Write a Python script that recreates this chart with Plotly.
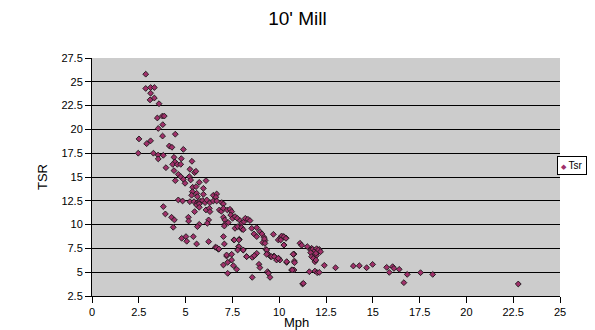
import plotly.graph_objects as go

# Wind speed (mph) and tip speed ratio readings for the 10' mill
mph = [
    2.87, 2.87, 3.13, 3.33, 3.13, 3.10, 3.33, 3.58, 3.76, 3.86, 3.49, 3.78, 3.54,
    2.51, 2.92, 3.13, 2.47, 3.28, 3.53, 3.54,
    3.77, 4.45, 4.13, 4.27, 4.88, 3.81,
    4.38, 4.77, 5.34, 4.43, 4.31, 4.56, 4.74, 3.95, 4.38, 5.23, 5.48, 5.55,
    4.61, 4.74, 4.45, 4.88, 4.97, 5.20, 5.27, 5.73, 6.09, 5.38, 5.56, 5.95,
    5.36, 5.59, 5.95, 5.32, 5.63, 6.48, 6.66, 6.62,
    4.61, 4.84, 5.23, 5.45, 5.63, 5.77, 5.91, 5.59, 5.73, 6.04, 6.13, 6.30,
    6.48, 6.66, 6.93, 7.02, 5.73, 6.09, 6.27, 6.30,
    3.81, 3.92, 4.25, 4.40, 4.34, 5.15, 5.16, 5.48, 5.73, 5.63, 6.23, 6.16,
    6.80, 6.91, 7.02, 7.23, 7.37, 7.46, 7.41, 7.51, 7.02, 7.09, 7.12, 7.28,
    7.64, 7.76, 7.91, 7.99, 8.12, 8.19, 8.33, 8.44, 7.91, 8.01, 8.53, 8.80,
    8.97, 9.08, 9.19, 8.65, 8.80, 9.24, 9.12, 9.69, 9.95, 10.08, 10.22, 10.36,
    10.26, 4.79, 5.02, 5.41, 5.06, 5.59, 6.23, 7.02, 7.07, 7.58, 7.87, 7.83,
    8.08, 6.59, 6.75, 7.19, 8.26, 8.62, 8.80, 9.29, 9.37, 9.54, 9.72, 9.97,
    10.76, 11.11, 11.20, 11.50, 11.73, 11.93, 12.04, 12.14, 11.82, 12.00,
    10.13, 10.25, 10.36, 10.08, 10.25, 10.04, 10.40, 10.79, 10.81, 10.82,
    10.66, 10.79, 11.25, 11.29, 11.68, 11.79, 11.91, 12.00, 12.09, 12.21,
    11.96, 11.68, 11.73, 11.82, 11.91, 11.96, 11.61, 11.91, 12.03, 12.14,
    12.41, 13.01, 13.96, 14.28, 14.67, 14.99, 15.74, 15.88, 16.06, 16.13,
    16.41, 16.66, 16.84, 17.55, 18.20, 22.77,
    7.02, 7.25, 7.46, 7.55, 7.73, 7.25, 8.92, 8.97, 8.56, 9.38, 9.42, 9.51,
    10.70, 10.40, 7.07, 7.64, 7.78, 7.99, 8.08, 7.60, 7.85, 9.21, 9.24, 6.66,
    6.78, 7.85, 7.78, 8.08, 7.19, 7.46, 8.26, 8.56, 8.67, 9.33, 9.33, 9.60,
    9.74, 9.86, 9.95, 10.75,
]
tsr = [
    25.8, 24.3, 24.4, 24.4, 23.8, 23.1, 23.3, 22.7, 21.4, 21.4, 21.2, 20.5, 20.1,
    19.0, 18.5, 18.8, 17.5, 17.5, 17.3, 16.9,
    19.3, 19.5, 18.26, 18.12, 17.9, 17.28,
    17.07, 16.93, 16.65, 16.58, 16.33, 16.33, 16.33, 15.98, 15.67, 15.81, 15.46, 15.6,
    15.28, 15.04, 14.62, 14.76, 14.34, 15.04, 14.69, 14.44, 14.62, 13.92, 13.99, 13.81,
    13.46, 13.29, 13.18, 13.08, 12.94, 13.08, 13.22, 12.87,
    12.59, 12.48, 12.41, 12.41, 12.31, 12.45, 12.52, 12.06, 12.17, 12.31, 12.59, 12.31,
    12.48, 12.48, 12.31, 12.17, 11.82, 11.54, 11.71, 11.36,
    11.89, 11.12, 10.77, 10.49, 9.72, 10.77, 10.38, 11.36, 10.03, 9.79, 10.49, 10.14,
    11.54, 11.40, 11.71, 11.54, 11.61, 11.36, 11.01, 10.66, 10.77, 10.49, 10.07, 10.21,
    10.84, 10.66, 10.42, 10.14, 10.31, 10.66, 10.56, 10.42, 9.79, 9.51, 9.61, 9.68,
    9.26, 9.02, 8.67, 9.02, 8.74, 8.32, 8.11, 8.98, 8.39, 8.67, 8.74, 8.60,
    7.86, 8.56, 8.74, 8.74, 8.25, 7.97, 8.21, 8.74, 7.97, 8.39, 8.46, 7.69,
    7.33, 7.62, 7.41, 6.70, 6.64, 6.64, 6.98, 7.40, 6.98, 6.64, 6.70, 6.46,
    6.88, 8.04, 7.83, 7.69, 7.51, 7.27, 7.05, 7.40, 6.64, 6.77,
    8.80, 8.73, 8.55, 8.38, 7.85, 6.28, 6.03, 6.91, 6.17, 6.00,
    5.23, 5.23, 3.76, 3.83, 7.33, 7.40, 7.26, 7.47, 7.33, 7.15,
    6.98, 7.05, 6.63, 6.45, 6.10, 6.28, 5.05, 5.12, 4.95, 4.98,
    5.72, 5.47, 5.65, 5.68, 5.47, 5.82, 5.51, 4.98, 5.58, 5.40,
    5.30, 3.90, 4.77, 4.95, 4.77, 3.76,
    5.76, 6.04, 6.28, 5.69, 5.30, 4.88, 5.83, 5.48, 4.46, 5.06, 4.88, 4.46,
    5.23, 6.11, 9.85, 9.61, 9.78, 9.68, 9.47, 8.39, 8.39, 8.49, 8.03, 7.58,
    7.44, 7.68, 7.33, 7.33, 6.81, 6.88, 6.63, 6.56, 6.74, 7.33, 6.88, 6.63,
    6.63, 6.28, 6.46, 6.88,
]

x_ticks = [0, 2.5, 5, 7.5, 10, 12.5, 15, 17.5, 20, 22.5, 25]
y_ticks = [2.5, 5, 7.5, 10, 12.5, 15, 17.5, 20, 22.5, 25, 27.5]

FONT = "Liberation Sans, Arial, sans-serif"
MARKER = "#A0306A"

fig = go.Figure()
fig.add_trace(go.Scatter(
    x=mph, y=tsr, mode="markers", name="Tsr",
    marker=dict(symbol="diamond", size=4.5, color=MARKER,
                line=dict(color="#1a1a1a", width=0.9)),
    showlegend=False,
))

fig.update_layout(
    width=595, height=330,
    margin=dict(l=92, r=35, t=58, b=34),
    paper_bgcolor="white",
    plot_bgcolor="#CCCCCC",
    font=dict(family=FONT, size=11, color="black"),
    title=dict(text="10' Mill", x=0.5, xanchor="center", xref="container",
               y=0.945, yanchor="middle", yref="container",
               font=dict(family=FONT, size=19, color="black")),
    xaxis=dict(range=[0, 25], tickvals=x_ticks, ticktext=[f"{v:g}" for v in x_ticks],
               showgrid=False, zeroline=False, showline=True, linecolor="black",
               linewidth=1, ticks="outside", ticklen=6, tickcolor="black",
               tickfont=dict(size=11)),
    yaxis=dict(range=[2.5, 27.5], tickvals=y_ticks, ticktext=[f"{v:g}" for v in y_ticks],
               showgrid=True, gridcolor="black", gridwidth=1, zeroline=False,
               showline=True, linecolor="black", linewidth=1,
               ticks="outside", ticklen=6, tickcolor="black",
               tickfont=dict(size=11)),
    annotations=[
        dict(text="Mph", xref="paper", yref="paper", x=0.437, y=-0.09 * 330 / 262,
             xanchor="center", yanchor="middle", showarrow=False,
             font=dict(family=FONT, size=13)),
        dict(text="TSR", xref="paper", yref="paper", x=-50 / 468, y=0.5,
             xanchor="center", yanchor="middle", textangle=-90, showarrow=False,
             font=dict(family=FONT, size=13)),
        dict(text=f"<span style='color:{MARKER};font-size:7px'>◆</span> Tsr",
             xref="paper", yref="paper", x=465 / 468, y=(296 - 165.5) / 238,
             xanchor="left", yanchor="middle", showarrow=False,
             bgcolor="white", bordercolor="black", borderwidth=1, borderpad=3,
             font=dict(family=FONT, size=10)),
    ],
)

fig.write_html("out.html")
